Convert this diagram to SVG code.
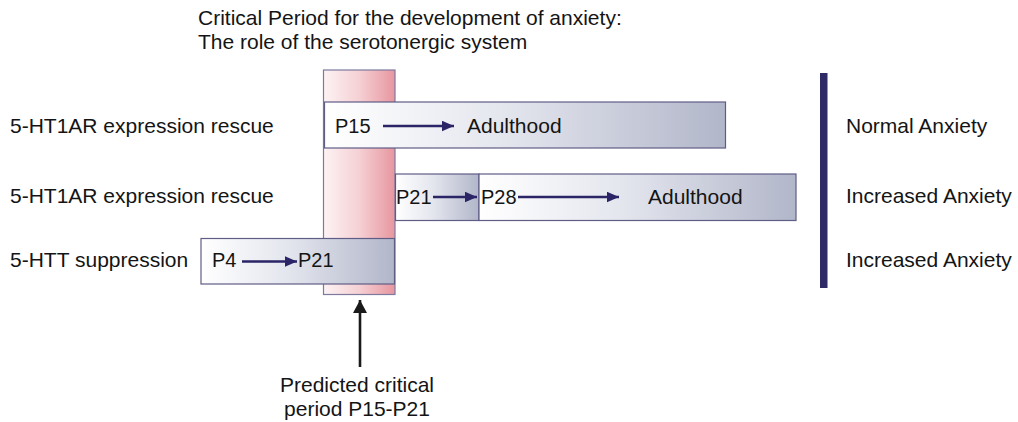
<svg xmlns="http://www.w3.org/2000/svg" width="1018" height="422" viewBox="0 0 1018 422">
<style>
text{font-family:"Liberation Sans",Arial,Helvetica,sans-serif;font-size:21px;fill:#141414}
text.in{font-size:20px}
.bar{fill:url(#gBar);stroke:#5f5c86;stroke-width:1.2}
.col{fill:url(#gPink);stroke:#7d7a9e;stroke-width:1.2}
.arr{stroke:#2b2466;stroke-width:2.4;fill:none;marker-end:url(#mHead)}
.parr{stroke:#1a1a1a;stroke-width:2.6;fill:none;marker-end:url(#mBlack)}
</style>
<defs>
<linearGradient id="gBar" x1="0" y1="0" x2="1" y2="0">
<stop offset="0" stop-color="#ffffff"/>
<stop offset="0.45" stop-color="#e4e6ee"/>
<stop offset="1" stop-color="#b1b6c9"/>
</linearGradient>
<linearGradient id="gPink" x1="0" y1="0" x2="1" y2="0">
<stop offset="0" stop-color="#fdf3f4"/>
<stop offset="0.5" stop-color="#f5d0d4"/>
<stop offset="1" stop-color="#e7969f"/>
</linearGradient>
<marker id="mHead" markerUnits="userSpaceOnUse" markerWidth="13" markerHeight="11" refX="12.5" refY="5.5" orient="auto">
<path d="M0,0 L12.5,5.5 L0,11 Z" fill="#2b2466"/>
</marker>
<marker id="mBlack" markerUnits="userSpaceOnUse" markerWidth="14" markerHeight="14" refX="13" refY="7" orient="auto">
<path d="M0,0 L13,7 L0,14 Z" fill="#1a1a1a"/>
</marker>
</defs>
<rect width="1018" height="422" fill="#ffffff"/>

<g id="title">
<text x="198" y="25">Critical Period for the development of anxiety:</text>
<text x="198" y="49">The role of the serotonergic system</text>
</g>

<g id="critical-period">
<rect class="col" x="323.5" y="70" width="71.5" height="224.5"/>
</g>

<g id="row-labels">
<text x="10" y="133">5-HT1AR expression rescue</text>
<text x="10" y="203">5-HT1AR expression rescue</text>
<text x="10" y="267">5-HTT suppression</text>
</g>

<g id="bar-p15">
<rect class="bar" x="324.5" y="102" width="401" height="46"/>
<text class="in" x="335" y="133">P15</text>
<text x="467" y="133">Adulthood</text>
</g>

<g id="bar-p21">
<rect class="bar" x="395.5" y="174" width="83.5" height="46.5"/>
<text class="in" x="396" y="204">P21</text>
</g>

<g id="bar-p28">
<rect class="bar" x="479" y="174" width="317" height="46.5"/>
<text class="in" x="481" y="204">P28</text>
<text x="648" y="204">Adulthood</text>
</g>

<g id="bar-p4">
<rect class="bar" x="201" y="238.5" width="193.5" height="45.5"/>
<text class="in" x="212" y="267">P4</text>
<text class="in" x="298" y="267">P21</text>
</g>

<g id="outcomes">
<rect x="820" y="73" width="7.5" height="215" fill="#2e2a66"/>
<text x="846" y="133">Normal Anxiety</text>
<text x="846" y="203">Increased Anxiety</text>
<text x="846" y="267">Increased Anxiety</text>
</g>

<g id="predicted">
<text x="357" y="392" text-anchor="middle">Predicted critical</text>
<text x="357" y="416" text-anchor="middle">period P15-P21</text>
</g>

<g id="connectors">
<line class="arr" x1="383" y1="126" x2="454" y2="126"/>
<line class="arr" x1="433" y1="197" x2="477" y2="197"/>
<line class="arr" x1="518" y1="197" x2="619" y2="197"/>
<line class="arr" x1="242" y1="261.5" x2="297" y2="261.5"/>
<line class="parr" x1="360" y1="367" x2="360" y2="300"/>
</g>
</svg>
